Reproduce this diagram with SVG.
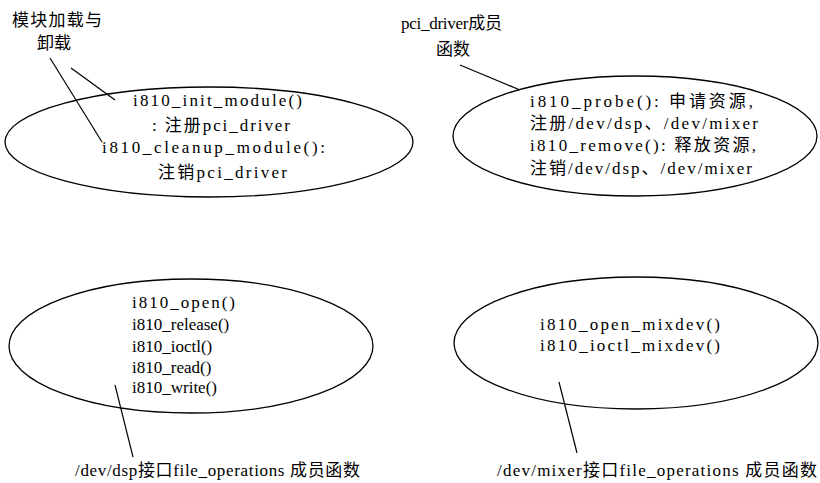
<svg xmlns="http://www.w3.org/2000/svg" width="820" height="483" viewBox="0 0 820 483">
  <style>
    .oval { fill: none; stroke: #000; stroke-width: 1.3; }
    .lead { stroke: #000; stroke-width: 1.2; fill: none; }
    text { font-family: "Liberation Serif", "Noto Sans CJK SC", serif; fill: #000; }
    .lbl { font-size: 17px; }
    .fn { font-size: 17px; }
  </style>
  <rect width="820" height="483" fill="#fff"/>

  <!-- leader lines -->
  <g id="connectors">
    <line class="lead" x1="71" y1="68" x2="115" y2="100"/>
    <line class="lead" x1="50" y1="58" x2="102" y2="142"/>
    <line class="lead" x1="460" y1="65" x2="520" y2="90"/>
    <line class="lead" x1="115" y1="385" x2="133" y2="457"/>
    <line class="lead" x1="559" y1="382" x2="577" y2="453"/>
  </g>

  <!-- module load / unload -->
  <g id="module">
    <ellipse class="oval" cx="209" cy="142" rx="204" ry="55"/>
    <text class="fn" x="133" y="106" textLength="169" lengthAdjust="spacing">i810_init_module()</text>
    <text class="fn" x="152" y="131" textLength="138" lengthAdjust="spacing">: 注册pci_driver</text>
    <text class="fn" x="102" y="153" textLength="223" lengthAdjust="spacing">i810_cleanup_module():</text>
    <text class="fn" x="158" y="178" textLength="129" lengthAdjust="spacing">注销pci_driver</text>
  </g>

  <!-- pci_driver members -->
  <g id="pci-driver">
    <ellipse class="oval" cx="635" cy="136" rx="182" ry="60"/>
    <text class="fn" x="530" y="107" textLength="223" lengthAdjust="spacing">i810_probe(): 申请资源,</text>
    <text class="fn" x="530" y="129" textLength="228" lengthAdjust="spacing">注册/dev/dsp、/dev/mixer</text>
    <text class="fn" x="530" y="151" textLength="226" lengthAdjust="spacing">i810_remove(): 释放资源,</text>
    <text class="fn" x="530" y="174" textLength="222" lengthAdjust="spacing">注销/dev/dsp、/dev/mixer</text>
  </g>

  <!-- /dev/dsp file_operations -->
  <g id="dsp-fops">
    <ellipse class="oval" cx="191" cy="346" rx="182" ry="67"/>
    <text class="fn" x="132" y="308" textLength="103" lengthAdjust="spacing">i810_open()</text>
    <text class="fn" x="132" y="330">i810_release()</text>
    <text class="fn" x="132" y="352">i810_ioctl()</text>
    <text class="fn" x="132" y="373">i810_read()</text>
    <text class="fn" x="132" y="393">i810_write()</text>
  </g>

  <!-- /dev/mixer file_operations -->
  <g id="mixer-fops">
    <ellipse class="oval" cx="636" cy="343" rx="182" ry="66"/>
    <text class="fn" x="540" y="330" textLength="180" lengthAdjust="spacing">i810_open_mixdev()</text>
    <text class="fn" x="540" y="351" textLength="180" lengthAdjust="spacing">i810_ioctl_mixdev()</text>
  </g>

  <!-- callout labels -->
  <g id="label-module">
    <text class="lbl" x="12" y="26" textLength="90" lengthAdjust="spacing">模块加载与</text>
    <text class="lbl" x="37" y="49">卸载</text>
  </g>
  <g id="label-pci">
    <text class="lbl" x="401" y="29" textLength="101" lengthAdjust="spacing">pci_driver成员</text>
    <text class="lbl" x="436" y="55">函数</text>
  </g>
  <g id="label-dsp">
    <text class="lbl" x="75" y="476" textLength="285" lengthAdjust="spacing">/dev/dsp接口file_operations 成员函数</text>
  </g>
  <g id="label-mixer">
    <text class="lbl" x="497" y="476" textLength="320" lengthAdjust="spacing">/dev/mixer接口file_operations 成员函数</text>
  </g>
</svg>
